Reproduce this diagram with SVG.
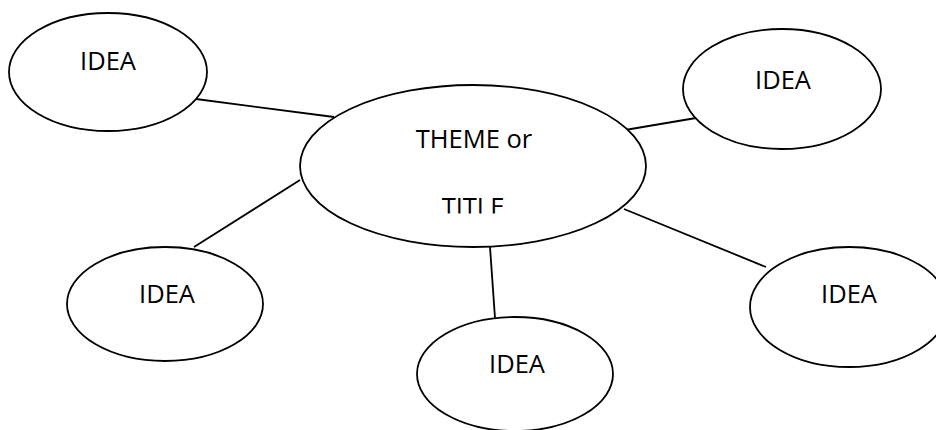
<svg xmlns="http://www.w3.org/2000/svg" width="936" height="430" viewBox="0 0 936 430">
<style>
.node ellipse{fill:#fff;stroke:#000;stroke-width:1.8}
.node text{font-family:"Open Sans","Noto Sans",sans-serif;font-size:25.5px;fill:#000;text-anchor:middle}
#connectors line{stroke:#000;stroke-width:1.8}
</style>
<defs>
<clipPath id="titleClip"><rect x="300" y="100" width="350" height="113.5"/></clipPath>
</defs>
<rect width="936" height="430" fill="#fff"/>
<g id="connectors">
<line x1="196" y1="99" x2="334" y2="117"/>
<line x1="625" y1="130" x2="696" y2="118"/>
<line x1="300" y1="180" x2="194" y2="247"/>
<line x1="490" y1="247" x2="495" y2="318"/>
<line x1="624" y1="209" x2="766" y2="267"/>
</g>
<g id="center" class="node">
<ellipse cx="473" cy="166" rx="173" ry="81"/>
<text x="474" y="148">THEME or</text>
<text x="473" y="216" clip-path="url(#titleClip)">TITLE</text>
</g>
<g id="idea-tl" class="node">
<ellipse cx="108" cy="72" rx="99" ry="59"/>
<text x="108" y="70">IDEA</text>
</g>
<g id="idea-tr" class="node">
<ellipse cx="782" cy="89" rx="99" ry="60"/>
<text x="783" y="89">IDEA</text>
</g>
<g id="idea-bl" class="node">
<ellipse cx="165" cy="304" rx="98" ry="57"/>
<text x="167" y="303">IDEA</text>
</g>
<g id="idea-bm" class="node">
<ellipse cx="515" cy="374" rx="98" ry="57"/>
<text x="517" y="373">IDEA</text>
</g>
<g id="idea-br" class="node">
<ellipse cx="849" cy="307" rx="99" ry="60"/>
<text x="849" y="303">IDEA</text>
</g>
</svg>
